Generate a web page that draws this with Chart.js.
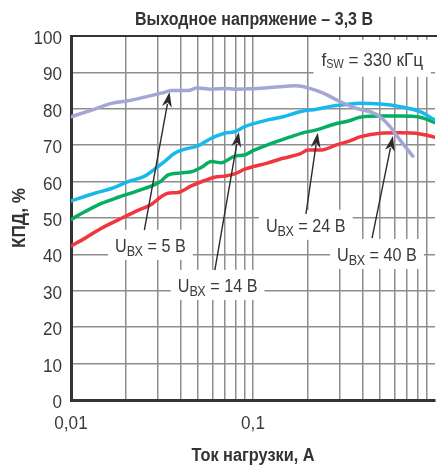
<!DOCTYPE html>
<html><head><meta charset="utf-8">
<script src="https://cdn.jsdelivr.net/npm/chart.js@4/dist/chart.umd.min.js"></script>
<style>html,body{margin:0;padding:0;background:#fff;overflow:hidden}#wrap{position:relative;width:437px;height:466px}</style>
</head><body><div id="wrap"><canvas id="c" width="437" height="466"></canvas></div>
<script>
const FONT = '"Liberation Sans", Arial, sans-serif';
const titleText = 'Выходное напряжение – 3,3 В';
const xAxisTitle = 'Ток нагрузки, А';
const yAxisTitle = 'КПД, %';
const xTickValues = [0.01, 0.1, 1];
const xTickLabels = ['0,01', '0,1', ''];
const yTickValues = [0, 10, 20, 30, 40, 50, 60, 70, 80, 90, 100];

// UBX = 5 В (purple)
const ubx5Current = [0.01,0.0135,0.0167,0.0206,0.0254,0.0314,0.0357,0.0441,0.049,0.0592,0.07,0.08,0.098,0.129,0.173,0.205,0.243,0.30,0.371,0.458,0.50,0.566,0.643,0.755];
const ubx5Eff     = [77.8,79.9,81.5,82.2,83.2,84.3,85.0,85.0,85.7,85.4,85.6,85.4,85.5,85.9,86.3,85.6,84.3,82.0,80.1,78.9,77.8,75.1,71.4,67.0];
// UBX = 14 В (cyan)
const ubx14Current = [0.01,0.0135,0.0167,0.0206,0.0254,0.0289,0.0326,0.0371,0.0421,0.0498,0.059,0.0698,0.0793,0.090,0.102,0.124,0.146,0.181,0.223,0.276,0.341,0.387,0.50,0.643,0.828,1.0];
const ubx14Eff     = [54.7,56.8,58.1,60.0,61.5,63.5,65.5,67.8,68.9,69.8,71.9,73.3,73.7,75.1,76.0,77.1,77.8,79.2,79.9,80.8,81.3,81.5,81.3,80.6,79.2,76.9];
// UBX = 24 В (green)
const ubx24Current = [0.01,0.0119,0.0147,0.0182,0.0224,0.0277,0.0314,0.034,0.0403,0.0458,0.052,0.059,0.067,0.0793,0.090,0.100,0.1135,0.1345,0.159,0.188,0.223,0.276,0.341,0.387,0.50,0.643,0.828,1.0];
const ubx24Eff     = [49.6,51.7,54.0,55.7,57.2,58.8,60.2,61.8,62.4,62.7,63.9,65.5,65.2,67.0,67.3,68.5,69.6,71.0,72.2,73.4,74.2,75.7,76.8,77.7,78.0,78.0,77.7,76.2];
// UBX = 40 В (red)
const ubx40Current = [0.01,0.0119,0.0147,0.0182,0.0224,0.0277,0.0314,0.034,0.0386,0.0458,0.0542,0.0615,0.0698,0.0793,0.090,0.100,0.1185,0.146,0.181,0.201,0.238,0.288,0.341,0.387,0.50,0.643,0.828,1.0];
const ubx40Eff     = [42.3,44.4,47.2,49.5,51.7,53.8,55.9,56.8,57.0,58.8,60.3,61.2,61.5,62.1,63.4,64.1,65.0,66.4,67.6,68.7,68.7,70.1,71.2,72.3,73.3,73.4,73.1,72.2];

const seriesNames = ['5 В', '14 В', '24 В', '40 В'];
const seriesColors = ['#a4a7d6', '#16b9ee', '#06ae62', '#f2363f'];

// annotations: text anchor (centre x, baseline y) in data units, arrow start/tip in data units
const annotations = [
  {main:'U', sub:'ВХ', rest:' = 5 В',  x:0.0273, y:40.7, from:[0.0253,46.7], to:[0.0348,84.6]},
  {main:'U', sub:'ВХ', rest:' = 14 В', x:0.0639, y:29.7, from:[0.0617,35.7], to:[0.0836,73.6]},
  {main:'U', sub:'ВХ', rest:' = 24 В', x:0.195,  y:46.2, from:[0.1954,51.1], to:[0.227,73.4]},
  {main:'U', sub:'ВХ', rest:' = 40 В', x:0.480,  y:38.2, from:[0.451,44.5],  to:[0.587,72.5]},
  {main:'f', sub:'SW', rest:' = 330 кГц', x:0.452, y:91.8, big:true}
];

function mk(xs, ys){ return xs.map((x,i)=>({x:x, y:ys[i]})); }
const dataSets = [
  mk(ubx5Current, ubx5Eff), mk(ubx14Current, ubx14Eff),
  mk(ubx24Current, ubx24Eff), mk(ubx40Current, ubx40Eff)
];

const SX = 0.9; // horizontal condensing of the annotation font
function measure(ctx, a){
  const ms = a.big ? 19 : 18, ss = a.big ? 12 : 14;
  ctx.font = ms + 'px ' + FONT; const w1 = ctx.measureText(a.main).width * SX;
  ctx.font = ss + 'px ' + FONT; const w2 = ctx.measureText(a.sub).width * SX;
  ctx.font = ms + 'px ' + FONT; const w3 = ctx.measureText(a.rest).width * SX;
  return {ms, ss, w1, w2, w3, w: w1 + w2 + w3};
}
function txt(ctx, s, x, y, font, sx, align){
  ctx.save(); ctx.font = font; ctx.textAlign = align || 'left';
  ctx.translate(x, y); ctx.scale(sx, 1); ctx.fillText(s, 0, 0); ctx.restore();
}
function fitScale(ctx, s, font, target){ ctx.save(); ctx.font = font; const w = ctx.measureText(s).width; ctx.restore(); return target / w; }

const annPlugin = {
  id: 'ann',
  beforeDatasetsDraw(chart){
    const ctx = chart.ctx, xs = chart.scales.x, ys = chart.scales.y;
    ctx.save();
    ctx.fillStyle = '#fff';
    annotations.forEach(a=>{
      const m = measure(ctx, a);
      const cx = xs.getPixelForValue(a.x), by = ys.getPixelForValue(a.y);
      const padX = a.big ? 8 : 7, top = a.big ? 26 : 22, bot = a.big ? 11 : 8;
      ctx.fillRect(cx - m.w/2 - padX, by - top, m.w + 2*padX, top + bot);
    });
    ctx.restore();
  },
  afterDatasetsDraw(chart){
    const ctx = chart.ctx, xs = chart.scales.x, ys = chart.scales.y, ca = chart.chartArea;
    ctx.save();
    // top border
    ctx.strokeStyle = '#333'; ctx.lineWidth = 2;
    ctx.beginPath(); ctx.moveTo(ca.left, ca.top); ctx.lineTo(ca.right + 2, ca.top); ctx.stroke();
    // arrows
    annotations.forEach(a=>{
      if(!a.from) return;
      const x1 = xs.getPixelForValue(a.from[0]), y1 = ys.getPixelForValue(a.from[1]);
      const x2 = xs.getPixelForValue(a.to[0]), y2 = ys.getPixelForValue(a.to[1]);
      const ang = Math.atan2(y2 - y1, x2 - x1), L = 15, H = 5;
      ctx.strokeStyle = '#2b2b2b'; ctx.lineWidth = 1.4;
      ctx.beginPath(); ctx.moveTo(x1, y1);
      ctx.lineTo(x2 - Math.cos(ang)*L*0.8, y2 - Math.sin(ang)*L*0.8); ctx.stroke();
      ctx.fillStyle = '#2b2b2b';
      ctx.beginPath(); ctx.moveTo(x2, y2);
      ctx.lineTo(x2 - Math.cos(ang)*L + Math.sin(ang)*H, y2 - Math.sin(ang)*L - Math.cos(ang)*H);
      ctx.lineTo(x2 - Math.cos(ang)*L*0.7, y2 - Math.sin(ang)*L*0.7);
      ctx.lineTo(x2 - Math.cos(ang)*L - Math.sin(ang)*H, y2 - Math.sin(ang)*L + Math.cos(ang)*H);
      ctx.closePath(); ctx.fill();
    });
    // annotation texts
    ctx.fillStyle = '#3a3a3a'; ctx.textBaseline = 'alphabetic';
    annotations.forEach(a=>{
      const m = measure(ctx, a);
      const cx = xs.getPixelForValue(a.x), by = ys.getPixelForValue(a.y);
      let x = cx - m.w/2;
      txt(ctx, a.main, x, by, m.ms + 'px ' + FONT, SX); x += m.w1;
      txt(ctx, a.sub, x, by + (a.big ? 2 : 4), m.ss + 'px ' + FONT, SX); x += m.w2;
      txt(ctx, a.rest, x, by, m.ms + 'px ' + FONT, SX);
    });
    ctx.restore();
  },
  afterDraw(chart){
    const ctx = chart.ctx, xs = chart.scales.x, ys = chart.scales.y, ca = chart.chartArea;
    ctx.save();
    ctx.fillStyle = '#3a3a3a'; ctx.textBaseline = 'alphabetic';
    const tf = '19px ' + FONT;
    yTickValues.forEach(v=>{ txt(ctx, String(v), ca.left - 9, ys.getPixelForValue(v) + 8, tf, 0.9, 'right'); });
    xTickValues.forEach((v,i)=>{ if (xTickLabels[i]) txt(ctx, xTickLabels[i], xs.getPixelForValue(v), 429, tf, 0.9, 'center'); });
    // titles
    ctx.fillStyle = '#333';
    const bf = 'bold 18px ' + FONT;
    const midX = (ca.left + ca.right) / 2;
    txt(ctx, titleText, midX + 1, 25, bf, fitScale(ctx, titleText, bf, 238), 'center');
    txt(ctx, xAxisTitle, midX, 461, bf, fitScale(ctx, xAxisTitle, bf, 123), 'center');
    ctx.save(); ctx.translate(25, (ca.top + ca.bottom)/2); ctx.rotate(-Math.PI/2);
    txt(ctx, yAxisTitle, 0, 0, bf, fitScale(ctx, yAxisTitle, bf, 60), 'center');
    ctx.restore();
    ctx.restore();
  }
};

const gridColor = '#8e8e8e';
new Chart(document.getElementById('c'), {
  type: 'scatter',
  data: {
    datasets: dataSets.map((d,i)=>({
      label: seriesNames[i], data: d, showLine: true, borderColor: seriesColors[i],
      backgroundColor: seriesColors[i], borderWidth: 3.5, pointRadius: 0, tension: 0.4,
      cubicInterpolationMode: 'monotone', borderCapStyle: 'round', borderJoinStyle: 'round', fill: false
    }))
  },
  options: {
    responsive: false, animation: false, devicePixelRatio: 1,
    layout: { padding: { top: 36, right: 2, left: 0, bottom: 0 } },
    plugins: { legend: { display: false }, tooltip: { enabled: false }, title: { display: false } },
    scales: {
      x: {
        type: 'logarithmic', min: 0.01, max: 1,
        afterBuildTicks(s){
          const t = [];
          [0.01, 0.1].forEach(d=>{ for(let k=1;k<=9;k++) t.push({value: +(d*k).toPrecision(3)}); });
          t.push({value: 1});
          s.ticks = t;
        },
        afterFit(s){ s.height = 66; },
        ticks: { display: false, autoSkip: false },
        grid: { color: (c) => (c.tick && Math.abs(c.tick.value - 1) < 1e-9) ? 'rgba(0,0,0,0)' : gridColor, lineWidth: 1.5, drawTicks: false },
        border: { color: '#333', width: 3 }
      },
      y: {
        type: 'linear', min: 0, max: 100,
        afterBuildTicks(s){ s.ticks = yTickValues.map(v=>({value:v})); },
        afterFit(s){ s.width = 71; },
        ticks: { display: false },
        grid: { color: gridColor, lineWidth: 1.5, drawTicks: false },
        border: { color: '#333', width: 3 }
      }
    }
  },
  plugins: [annPlugin]
});
</script></body></html>
